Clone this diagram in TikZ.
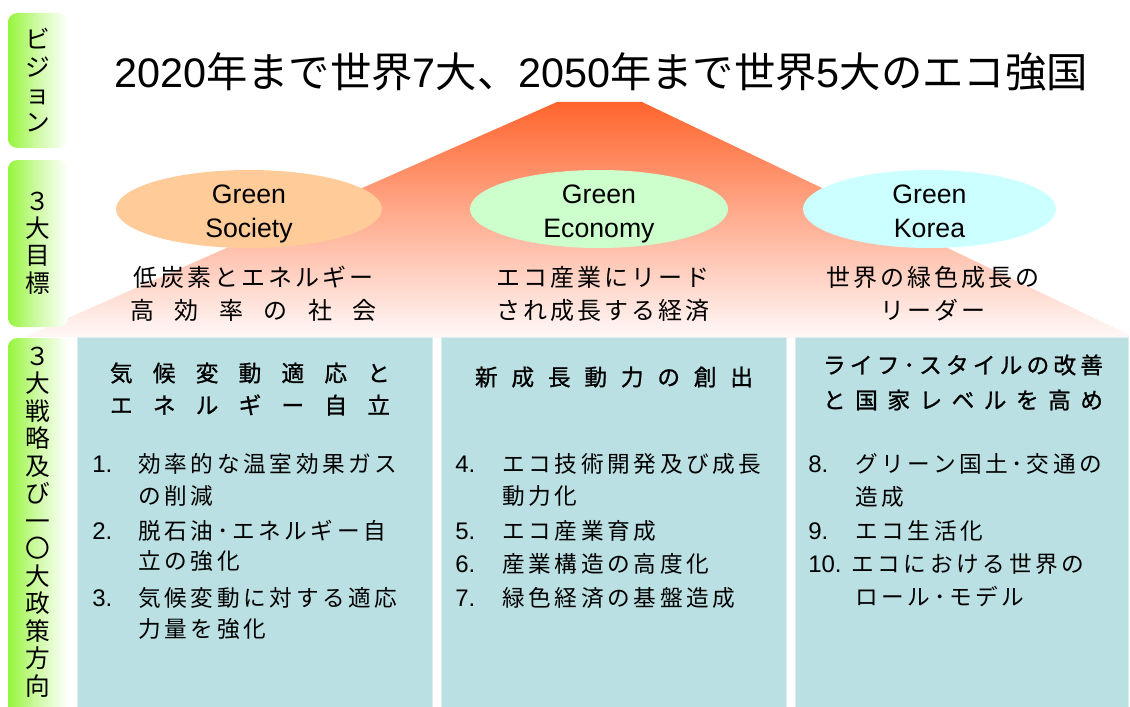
\documentclass[tikz,border=0pt]{standalone}
\usepackage{fontspec}
\setmainfont{Liberation Sans}
\newfontfamily\cjk{Noto Sans CJK JP}
\newfontfamily\cjkb[FakeBold=1.0]{Noto Sans CJK JP}
\newfontfamily\cjks[LetterSpace=12]{Noto Sans CJK JP}
\newfontfamily\cjkl[LetterSpace=16]{Noto Sans CJK JP}
\usetikzlibrary{shapes.geometric}
\definecolor{peach}{RGB}{255,204,153}
\definecolor{mint}{RGB}{204,255,204}
\definecolor{ice}{RGB}{204,255,255}
\definecolor{boxc}{RGB}{187,224,227}
\definecolor{lgreen}{RGB}{150,245,60}
\definecolor{triA}{RGB}{255,100,45}
\definecolor{triB}{RGB}{251,188,175}
\definecolor{triC}{RGB}{255,250,250}
\tikzset{
  lab/.style={rounded corners=7pt, left color=lgreen, right color=white, middle color=lgreen!45!white},
  labtext/.style={align=center, inner sep=0pt, font=\cjk\fontsize{18.5}{20.6}\selectfont},
  ell/.style={ellipse, inner sep=0pt, minimum height=58.5pt},
  elltext/.style={anchor=base, align=center, inner sep=0pt, font=\fontsize{20}{25.5}\selectfont},
  sub/.style={inner sep=0pt, font=\cjks\fontsize{18}{22}\selectfont},
  boxst/.style={fill=boxc, draw=boxc!55!white, line width=0.75pt},
  head/.style={inner sep=0pt, font=\cjkb\fontsize{17}{20}\selectfont},
  num/.style={anchor=base west, inner sep=0pt, font=\fontsize{18}{20}\selectfont},
  itm/.style={anchor=base west, inner sep=0pt, font=\cjkl\fontsize{17}{20}\selectfont}
}
\begin{document}
\begin{tikzpicture}[x=0.75pt,y=-0.75pt]
\useasboundingbox (0,0) rectangle (1130,706);
\clip (0,0) rectangle (1130,706);
\fill[white] (0,0) rectangle (1130,706);
% pyramid gradient
\shade[top color=triA, middle color=triB, bottom color=triC]
  (557,102) -- (642,102) -- (1140,340) -- (25,337) -- cycle;
% left labels
\path[lab] (8,13) rectangle (68,148);
\path[lab] (8,160) rectangle (68,327);
\path[lab] (8,338) rectangle (68,730);
\node[labtext] (l1) at (38,80) {ビ\\ジ\\ョ\\ン};
\node[labtext] (l2) at (38,243) {３\\大\\目\\標};
\node[labtext] (l3) at (38,522) {３\\大\\戦\\略\\及\\び\\一\\〇\\大\\政\\策\\方\\向};
% title
\node[inner sep=0pt, font=\fontsize{31}{37}\selectfont] (title) at (601,72)
  {2020{\cjk 年まで世界}7{\cjk 大、}2050{\cjk 年まで世界}5{\cjk 大のエコ強国}};
% ellipses
\node[ell, fill=peach, minimum width=199.5pt] (e1) at (249,209) {};
\node[ell, fill=mint, minimum width=193.5pt] (e2) at (599,209) {};
\node[ell, fill=ice, minimum width=189.75pt] (e3) at (929.5,209) {};
\node[elltext] (e1t) at (249,237) {Green\\Society};
\node[elltext] (e2t) at (599,237) {Green\\Economy};
\node[elltext] (e3t) at (929.5,237) {Green\\Korea};
% sub texts
\node[sub] (s1a) at (253.5,277) {低炭素とエネルギー};
\node[sub] (s1b) at (253.5,310) {\makebox[185pt][s]{高\hfill 効\hfill 率\hfill の\hfill 社\hfill 会}};
\node[sub] (s2a) at (603,277) {エコ産業にリード};
\node[sub] (s2b) at (603,310) {され成長する経済};
\node[sub] (s3a) at (933,277) {世界の緑色成長の};
\node[sub] (s3b) at (933,310) {リーダー};
% boxes
\path[boxst] (77,337) rectangle (432,720);
\path[boxst] (441,337) rectangle (786,720);
\path[boxst] (795,337) rectangle (1128,720);
% headings
\node[head] (h1a) at (250,373) {\makebox[210pt][s]{気\hfill 候\hfill 変\hfill 動\hfill 適\hfill 応\hfill と}};
\node[head] (h1b) at (250,405) {\makebox[210pt][s]{エ\hfill ネ\hfill ル\hfill ギ\hfill ー\hfill 自\hfill 立}};
\node[head] (h2) at (614,377) {\makebox[208.5pt][s]{新\hfill 成\hfill 長\hfill 動\hfill 力\hfill の\hfill 創\hfill 出}};
\node[head] (h3a) at (963,365) {\makebox[210pt][s]{ラ\hfill イ\hfill フ\hfill ･\hfill ス\hfill タ\hfill イ\hfill ル\hfill の\hfill 改\hfill 善}};
\node[head] (h3b) at (963,400) {\makebox[210pt][s]{と\hfill 国\hfill 家\hfill レ\hfill ベ\hfill ル\hfill を\hfill 高\hfill め}};
% box 1 items
\node[num] (n1) at (92,472) {1.};
\node[itm] (t1a) at (138,472) {効率的な温室効果ガス};
\node[itm] (t1b) at (138,504) {の削減};
\node[num] (n2) at (92,539) {2.};
\node[itm] (t2a) at (138,539) {脱石油･エネルギー自};
\node[itm] (t2b) at (138,569) {立の強化};
\node[num] (n3) at (92,606) {3.};
\node[itm] (t3a) at (138,606) {気候変動に対する適応};
\node[itm] (t3b) at (138,637) {力量を強化};
% box 2 items
\node[num] (n4) at (455,472) {4.};
\node[itm] (t4a) at (502,472) {エコ技術開発及び成長};
\node[itm] (t4b) at (502,504) {動力化};
\node[num] (n5) at (455,539) {5.};
\node[itm] (t5) at (502,539) {エコ産業育成};
\node[num] (n6) at (455,572) {6.};
\node[itm] (t6) at (502,572) {産業構造の高度化};
\node[num] (n7) at (455,606) {7.};
\node[itm] (t7) at (502,606) {緑色経済の基盤造成};
% box 3 items
\node[num] (n8) at (808,472) {8.};
\node[itm] (t8a) at (855,472) {グリーン国土･交通の};
\node[itm] (t8b) at (855,505) {造成};
\node[num] (n9) at (808,539) {9.};
\node[itm] (t9) at (855,539) {エコ生活化};
\node[num] (n10) at (808,572) {10.};
\node[itm] (t10a) at (851,572) {エコにおける世界の};
\node[itm] (t10b) at (855,605) {ロール･モデル};
\end{tikzpicture}
\end{document}
